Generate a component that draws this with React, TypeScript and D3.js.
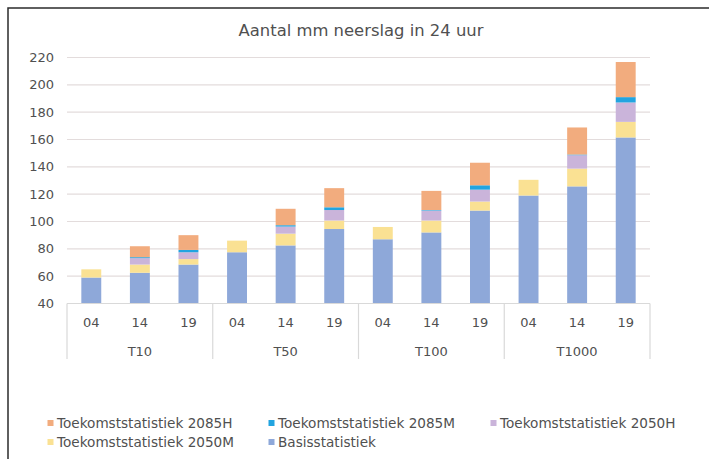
import React from "react";
import * as d3 from "d3";

// return periods and the year of each statistic
const groups = ["T10", "T50", "T100", "T1000"];
const years = ["04", "14", "19"];

// series, bottom to top of each stack
const seriesNames = [
  "Basisstatistiek",
  "Toekomststatistiek 2050M",
  "Toekomststatistiek 2050H",
  "Toekomststatistiek 2085M",
  "Toekomststatistiek 2085H",
];
const seriesColors = ["#8EA8D9", "#FAE193", "#CAB4DA", "#22A4E0", "#F2AC7E"];

// segment heights per bar (T10-04 ... T1000-19)
const basis = [59, 62.5, 68.5, 77.5, 82.5, 94.5, 87, 92, 108, 119, 125.7, 161.5];
const m2050 = [6, 6, 4, 8.5, 8.6, 6.2, 9, 8.7, 6.6, 11.5, 13, 11.4];
const h2050 = [0, 4.7, 5, 0, 5.2, 7.7, 0, 7.3, 8.7, 0, 9.8, 14.2];
const m2085 = [0, 0.7, 1.7, 0, 1, 2, 0, 0.4, 3.2, 0, 0.5, 3.9];
const h2085 = [0, 8, 10.8, 0, 12, 14, 0, 14, 16.5, 0, 19.8, 25.7];

const yTicks = [40, 60, 80, 100, 120, 140, 160, 180, 200, 220];

// legend order as in the picture
const legendOrder = [4, 3, 2, 1, 0];

export default function App() {
  const width = 709;
  const height = 459;
  const left = 67;
  const right = 650;
  const top = 57.5;
  const bottom = 303.5;
  const textColor = "#505050";
  const font = "DejaVu Sans, Verdana, sans-serif";

  const values = [basis, m2050, h2050, m2085, h2085];
  const rows = basis.map((_, i) => {
    const r: any = { key: i };
    seriesNames.forEach((s, j) => (r[s] = values[j][i]));
    return r;
  });
  const stacked = d3.stack<any>().keys(seriesNames)(rows);

  const barKeys = groups.flatMap((g) => years.map((yr) => g + "-" + yr));
  const x = d3.scaleBand<string>().domain(barKeys).range([left, right]).paddingInner(0.59).paddingOuter(0.295);
  const xg = d3.scaleBand<string>().domain(groups).range([left, right]);
  const y = d3.scaleLinear().domain([40, 220]).range([bottom, top]);
  const base = 40;

  const legendCols = [50, 271, 493];
  const legendRows = [423, 442];

  return (
    <svg width={width} height={height} style={{ position: "absolute", left: 0, top: 0, background: "#fff" }}>
      <rect x={8} y={8} width={720} height={470} fill="#fff" stroke="#2b2b2b" strokeWidth={1.5} />
      <text x={361} y={36} textAnchor="middle" fontFamily={font} fontSize={16.4} fill={textColor}>
        Aantal mm neerslag in 24 uur
      </text>

      {yTicks.map((t) => (
        <g key={t}>
          {t > 40 && <line x1={left} x2={right} y1={y(t)} y2={y(t)} stroke="#E3DCDC" strokeWidth={1.2} />}
          <text x={54} y={y(t)} dy="0.35em" textAnchor="end" fontFamily={font} fontSize={13} fill={textColor}>
            {t}
          </text>
        </g>
      ))}

      {stacked.map((layer, si) => (
        <g key={layer.key} fill={seriesColors[si]}>
          {layer.map((d, i) => {
            const y0 = y(Math.max(d[0], base));
            const y1 = y(d[1]);
            if (d[1] - d[0] <= 0) return null;
            return <rect key={i} x={x(barKeys[i])} width={x.bandwidth()} y={y1} height={y0 - y1} />;
          })}
        </g>
      ))}

      <line x1={left} x2={right} y1={bottom} y2={bottom} stroke="#D9D9D9" strokeWidth={1.2} />
      {[...groups.map((g) => xg(g) as number), right].map((gx, i) => (
        <line key={i} x1={gx} x2={gx} y1={bottom} y2={359} stroke="#D9D9D9" strokeWidth={1.2} />
      ))}
      {barKeys.map((k, i) => (
        <text key={k} x={(x(k) as number) + x.bandwidth() / 2} y={322} dy="0.35em" textAnchor="middle" fontFamily={font} fontSize={13} fill={textColor}>
          {years[i % 3]}
        </text>
      ))}
      {groups.map((g) => (
        <text key={g} x={(xg(g) as number) + xg.bandwidth() / 2} y={351} dy="0.35em" textAnchor="middle" fontFamily={font} fontSize={13} fill={textColor}>
          {g}
        </text>
      ))}

      {legendOrder.map((si, i) => {
        const lx = legendCols[i % 3];
        const ly = legendRows[Math.floor(i / 3)];
        return (
          <g key={si}>
            <rect x={lx - 2.5} y={ly - 3} width={6} height={6} fill={seriesColors[si]} />
            <text x={lx + 7} y={ly} dy="0.35em" fontFamily={font} fontSize={13.6} fill={textColor}>
              {seriesNames[si]}
            </text>
          </g>
        );
      })}
    </svg>
  );
}
